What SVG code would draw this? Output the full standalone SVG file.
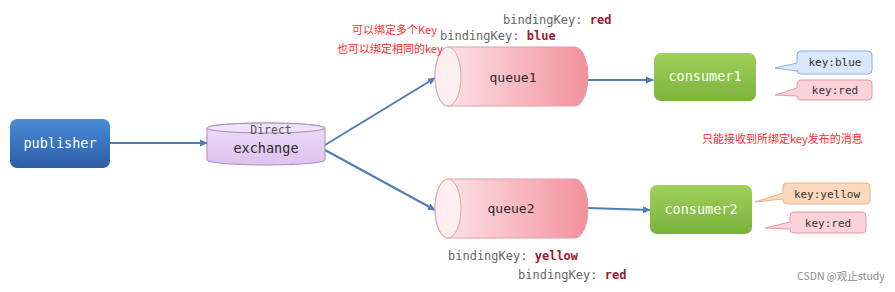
<svg xmlns="http://www.w3.org/2000/svg" width="895" height="292" viewBox="0 0 895 292">
<defs>
<linearGradient id="gPub" x1="0" y1="0" x2="0" y2="1"><stop offset="0" stop-color="#4a8bd6"/><stop offset="1" stop-color="#2b5ea6"/></linearGradient>
<linearGradient id="gCons" x1="0" y1="0" x2="0" y2="1"><stop offset="0" stop-color="#9fd05a"/><stop offset="1" stop-color="#7ab33c"/></linearGradient>
<linearGradient id="gQ" x1="0" y1="0" x2="1" y2="0"><stop offset="0" stop-color="#fde9ec"/><stop offset="1" stop-color="#f2909c"/></linearGradient>
<linearGradient id="gEx" x1="0" y1="0" x2="0" y2="1"><stop offset="0" stop-color="#eddcf8"/><stop offset="1" stop-color="#dcc3ee"/></linearGradient>
<marker id="arr" markerWidth="8" markerHeight="8" refX="7" refY="4" orient="auto" markerUnits="userSpaceOnUse"><path d="M0,0.5 L8,4 L0,7.5 Z" fill="#4f7db5"/></marker>
</defs>
<style>
.mono{font-family:"DejaVu Sans Mono","Liberation Mono",monospace}
.lbl{font-size:13.5px}
.wt{fill:#ffffff}
.dk{fill:#2a2a2a}
.bk{font-size:12px;fill:#666666}
.bv{font-weight:bold;fill:#9b1b30}
.cn{font-family:"Noto Sans CJK SC","Noto Sans",sans-serif;fill:#ff2a2a;font-size:11px}
.key{font-size:11px;fill:#333333}
.conn{stroke:#4f7db5;stroke-width:2;fill:none;marker-end:url(#arr)}
</style>
<rect x="0" y="0" width="895" height="292" fill="#ffffff"/>
<g id="connectors">
<line class="conn" x1="110" y1="143" x2="207" y2="143"/>
<line class="conn" x1="325" y1="145" x2="435" y2="78"/>
<line class="conn" x1="325" y1="150" x2="435" y2="210"/>
<line class="conn" x1="588" y1="80" x2="653" y2="80"/>
<line class="conn" x1="588" y1="208" x2="650" y2="210"/>
</g>
<g id="publisher">
<rect x="10" y="119" width="100" height="49" rx="7" fill="url(#gPub)"/>
<text class="mono lbl wt" x="60" y="148" text-anchor="middle">publisher</text>
</g>
<g id="exchange">
<path d="M207,128 A59,5 0 0 1 325,128 V160 A59,5 0 0 1 207,160 Z" fill="url(#gEx)" stroke="#a88cc2" stroke-width="1"/>
<ellipse cx="266" cy="128" rx="59" ry="5" fill="#efe2f9" stroke="#a88cc2" stroke-width="1"/>
<text class="mono" x="271" y="134" text-anchor="middle" font-size="11.5" fill="#555555">Direct</text>
<text class="mono lbl dk" x="266" y="153" text-anchor="middle">exchange</text>
</g>
<g id="queue1">
<path d="M448,47 H575 A13,29.5 0 0 1 575,106 H448 A13,29.5 0 0 1 448,47 Z" fill="url(#gQ)" stroke="#e0a0aa" stroke-width="1"/>
<ellipse cx="448" cy="76.5" rx="13" ry="29.5" fill="#fdeef0" stroke="#e0a0aa" stroke-width="1"/>
<text class="mono" x="513" y="82" text-anchor="middle" font-size="13" fill="#2a2a2a">queue1</text>
</g>
<g id="queue2">
<path d="M448,179 H575 A13,29.5 0 0 1 575,238 H448 A13,29.5 0 0 1 448,179 Z" fill="url(#gQ)" stroke="#e0a0aa" stroke-width="1"/>
<ellipse cx="448" cy="208.5" rx="13" ry="29.5" fill="#fdeef0" stroke="#e0a0aa" stroke-width="1"/>
<text class="mono" x="511" y="213" text-anchor="middle" font-size="13" fill="#2a2a2a">queue2</text>
</g>
<g id="consumer1">
<rect x="654" y="53" width="102" height="48" rx="7" fill="url(#gCons)"/>
<text class="mono lbl wt" x="705" y="81" text-anchor="middle">consumer1</text>
</g>
<g id="consumer2">
<rect x="650" y="185" width="102" height="49" rx="7" fill="url(#gCons)"/>
<text class="mono lbl wt" x="701" y="214" text-anchor="middle">consumer2</text>
</g>
<g id="key-blue">
<path d="M801,51 H868 A4,4 0 0 1 872,55 V70 A4,4 0 0 1 868,74 H801 A4,4 0 0 1 797,70 V71 L775,68 L797,63 V55 A4,4 0 0 1 801,51 Z" fill="#dbe7fb" stroke="#8eaee2" stroke-width="1"/>
<text class="mono key" x="835" y="66" text-anchor="middle">key:blue</text>
</g>
<g id="key-red-1">
<path d="M801,80 H868 A4,4 0 0 1 872,84 V96 A4,4 0 0 1 868,100 H801 A4,4 0 0 1 797,96 L775,95 L797,88 V84 A4,4 0 0 1 801,80 Z" fill="#fbd2da" stroke="#e49aa8" stroke-width="1"/>
<text class="mono key" x="835" y="94" text-anchor="middle">key:red</text>
</g>
<g id="key-yellow">
<path d="M787,183 H866 A4,4 0 0 1 870,187 V200 A4,4 0 0 1 866,204 H787 A4,4 0 0 1 783,200 V199 L755,202 L783,193 V187 A4,4 0 0 1 787,183 Z" fill="#fcd9bc" stroke="#e8b08a" stroke-width="1"/>
<text class="mono key" x="827" y="198" text-anchor="middle">key:yellow</text>
</g>
<g id="key-red-2">
<path d="M794,212 H862 A4,4 0 0 1 866,216 V229 A4,4 0 0 1 862,233 H794 A4,4 0 0 1 790,229 L765,228 L790,222 V216 A4,4 0 0 1 794,212 Z" fill="#fbd2da" stroke="#e49aa8" stroke-width="1"/>
<text class="mono key" x="828" y="227" text-anchor="middle">key:red</text>
</g>
<g id="labels">
<text class="mono bk" x="503" y="24">bindingKey: <tspan class="bv">red</tspan></text>
<text class="mono bk" x="440" y="40">bindingKey: <tspan class="bv">blue</tspan></text>
<text class="mono bk" x="448" y="260">bindingKey: <tspan class="bv">yellow</tspan></text>
<text class="mono bk" x="518" y="279">bindingKey: <tspan class="bv">red</tspan></text>
<text class="cn" x="352" y="34">可以绑定多个Key</text>
<text class="cn" x="337" y="53">也可以绑定相同的key</text>
<text class="cn" x="702" y="143">只能接收到所绑定key发布的消息</text>
<text x="797" y="280" font-family="Noto Sans CJK SC,Noto Sans,sans-serif" font-size="10.5" fill="#8a8a8a">CSDN @观止study</text>
</g>
</svg>
